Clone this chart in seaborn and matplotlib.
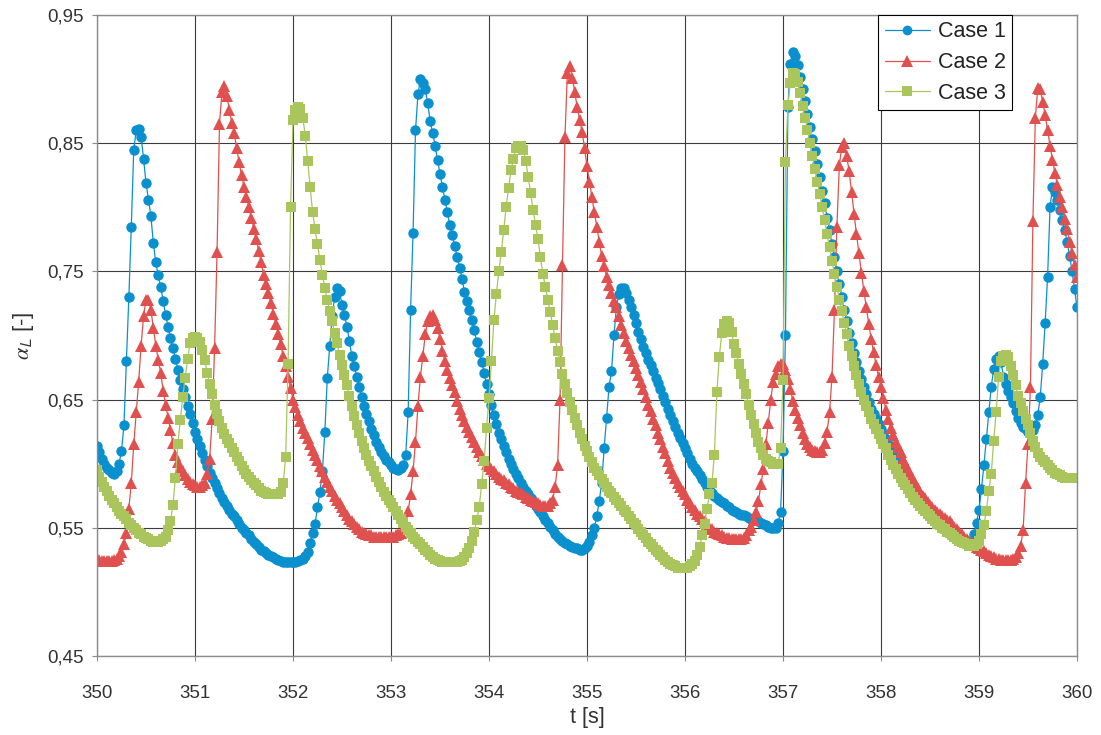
import numpy as np
import pandas as pd
import seaborn as sns
import matplotlib.pyplot as plt
import matplotlib.ticker as mticker
from matplotlib.lines import Line2D

# time axis: 350 s .. 360 s, one value every 0.025 s
t = np.round(np.linspace(350, 360, 401), 3)

cases = ["Case 1", "Case 2", "Case 3"]

case1 = [
    0.614, 0.609, 0.604, 0.600, 0.597, 0.595, 0.593, 0.592, 0.594, 0.600, 0.610, 0.630, 0.680, 0.730, 0.785, 0.845, 0.860, 0.861, 0.855, 0.838,  # 350.0
    0.819, 0.806, 0.793, 0.772, 0.757, 0.747, 0.738, 0.727, 0.716, 0.707, 0.698, 0.690, 0.682, 0.673, 0.665, 0.658, 0.652, 0.645, 0.639, 0.632,  # 350.5
    0.625, 0.619, 0.614, 0.608, 0.603, 0.598, 0.593, 0.589, 0.585, 0.581, 0.577, 0.573, 0.570, 0.567, 0.564, 0.561, 0.559, 0.556, 0.553, 0.550,  # 351.0
    0.548, 0.546, 0.544, 0.541, 0.539, 0.537, 0.535, 0.533, 0.532, 0.530, 0.529, 0.528, 0.527, 0.526, 0.525, 0.524, 0.523, 0.523, 0.523, 0.523,  # 351.5
    0.523, 0.523, 0.524, 0.525, 0.526, 0.528, 0.531, 0.538, 0.546, 0.553, 0.566, 0.578, 0.594, 0.625, 0.667, 0.692, 0.715, 0.730, 0.737, 0.735,  # 352.0
    0.724, 0.716, 0.707, 0.696, 0.684, 0.676, 0.668, 0.660, 0.652, 0.645, 0.639, 0.633, 0.627, 0.622, 0.617, 0.613, 0.609, 0.606, 0.603, 0.601,  # 352.5
    0.599, 0.597, 0.596, 0.595, 0.597, 0.599, 0.607, 0.640, 0.720, 0.780, 0.860, 0.888, 0.900, 0.897, 0.892, 0.881, 0.867, 0.858, 0.848, 0.837,  # 353.0
    0.826, 0.816, 0.806, 0.796, 0.786, 0.778, 0.770, 0.761, 0.753, 0.744, 0.734, 0.727, 0.720, 0.712, 0.704, 0.695, 0.687, 0.679, 0.671, 0.662,  # 353.5
    0.654, 0.646, 0.638, 0.631, 0.624, 0.619, 0.614, 0.609, 0.604, 0.600, 0.596, 0.592, 0.589, 0.585, 0.582, 0.579, 0.576, 0.573, 0.570, 0.567,  # 354.0
    0.565, 0.562, 0.559, 0.556, 0.554, 0.551, 0.548, 0.545, 0.543, 0.541, 0.540, 0.538, 0.537, 0.536, 0.535, 0.534, 0.534, 0.533, 0.533, 0.534,  # 354.5
    0.536, 0.539, 0.544, 0.550, 0.559, 0.571, 0.585, 0.612, 0.636, 0.660, 0.672, 0.700, 0.722, 0.732, 0.737, 0.737, 0.733, 0.728, 0.722, 0.716,  # 355.0
    0.710, 0.703, 0.697, 0.691, 0.686, 0.681, 0.677, 0.672, 0.667, 0.663, 0.658, 0.653, 0.648, 0.643, 0.638, 0.633, 0.629, 0.624, 0.620, 0.616,  # 355.5
    0.612, 0.608, 0.604, 0.600, 0.597, 0.594, 0.591, 0.588, 0.585, 0.582, 0.580, 0.577, 0.575, 0.573, 0.572, 0.570, 0.569, 0.567, 0.566, 0.564,  # 356.0
    0.563, 0.562, 0.561, 0.560, 0.560, 0.559, 0.558, 0.557, 0.557, 0.556, 0.555, 0.554, 0.553, 0.552, 0.551, 0.550, 0.550, 0.550, 0.554, 0.562,  # 356.5
    0.610, 0.700, 0.878, 0.912, 0.921, 0.918, 0.911, 0.902, 0.892, 0.883, 0.873, 0.863, 0.853, 0.844, 0.834, 0.824, 0.813, 0.803, 0.792, 0.782,  # 357.0
    0.771, 0.761, 0.750, 0.740, 0.730, 0.720, 0.711, 0.702, 0.694, 0.686, 0.679, 0.672, 0.666, 0.660, 0.654, 0.648, 0.643, 0.639, 0.635, 0.631,  # 357.5
    0.627, 0.623, 0.619, 0.615, 0.611, 0.607, 0.603, 0.600, 0.596, 0.592, 0.589, 0.586, 0.583, 0.580, 0.578, 0.575, 0.573, 0.570, 0.568, 0.566,  # 358.0
    0.564, 0.562, 0.560, 0.558, 0.556, 0.554, 0.552, 0.550, 0.549, 0.547, 0.546, 0.544, 0.543, 0.541, 0.540, 0.539, 0.538, 0.538, 0.545, 0.554,  # 358.5
    0.564, 0.580, 0.599, 0.619, 0.640, 0.660, 0.674, 0.682, 0.684, 0.679, 0.668, 0.662, 0.657, 0.652, 0.647, 0.641, 0.636, 0.632, 0.629, 0.627,  # 359.0
    0.625, 0.625, 0.626, 0.630, 0.638, 0.652, 0.678, 0.710, 0.746, 0.800, 0.816, 0.812, 0.806, 0.798, 0.790, 0.782, 0.773, 0.762, 0.750, 0.736,  # 359.5
    0.722,
]

case2 = [
    0.525, 0.525, 0.524, 0.524, 0.524, 0.524, 0.524, 0.525, 0.526, 0.528, 0.531, 0.537, 0.546, 0.565, 0.585, 0.615, 0.640, 0.664, 0.692, 0.715,
    0.728, 0.728, 0.720, 0.706, 0.692, 0.681, 0.671, 0.657, 0.646, 0.636, 0.626, 0.616, 0.607, 0.601, 0.597, 0.594, 0.591, 0.588, 0.586, 0.584,
    0.583, 0.582, 0.582, 0.583, 0.585, 0.592, 0.604, 0.635, 0.690, 0.765, 0.865, 0.890, 0.895, 0.887, 0.876, 0.866, 0.858, 0.846, 0.835, 0.825,
    0.816, 0.808, 0.800, 0.792, 0.783, 0.775, 0.766, 0.757, 0.747, 0.740, 0.733, 0.725, 0.717, 0.709, 0.701, 0.693, 0.684, 0.676, 0.668, 0.659,
    0.650, 0.644, 0.638, 0.633, 0.628, 0.624, 0.620, 0.615, 0.611, 0.607, 0.603, 0.598, 0.594, 0.590, 0.586, 0.582, 0.579, 0.575, 0.572, 0.569,
    0.566, 0.563, 0.560, 0.557, 0.555, 0.553, 0.551, 0.549, 0.547, 0.546, 0.545, 0.544, 0.544, 0.543, 0.543, 0.543, 0.543, 0.543, 0.543, 0.543,
    0.543, 0.543, 0.544, 0.545, 0.546, 0.549, 0.553, 0.563, 0.576, 0.594, 0.617, 0.645, 0.668, 0.684, 0.701, 0.711, 0.715, 0.716, 0.712, 0.706,
    0.697, 0.688, 0.680, 0.673, 0.667, 0.661, 0.656, 0.649, 0.643, 0.638, 0.633, 0.629, 0.625, 0.621, 0.617, 0.613, 0.609, 0.606, 0.603, 0.600,
    0.598, 0.596, 0.594, 0.592, 0.590, 0.588, 0.587, 0.585, 0.584, 0.582, 0.581, 0.579, 0.578, 0.577, 0.576, 0.574, 0.573, 0.572, 0.571, 0.570,
    0.569, 0.568, 0.567, 0.567, 0.567, 0.569, 0.572, 0.582, 0.599, 0.650, 0.755, 0.855, 0.905, 0.910, 0.901, 0.890, 0.878, 0.868, 0.859, 0.846,
    0.832, 0.820, 0.808, 0.796, 0.785, 0.773, 0.762, 0.754, 0.746, 0.739, 0.733, 0.727, 0.722, 0.715, 0.708, 0.702, 0.696, 0.690, 0.685, 0.680,
    0.675, 0.669, 0.664, 0.658, 0.652, 0.646, 0.641, 0.635, 0.630, 0.624, 0.619, 0.613, 0.608, 0.602, 0.597, 0.593, 0.589, 0.585, 0.582, 0.579,
    0.576, 0.572, 0.569, 0.566, 0.564, 0.561, 0.559, 0.557, 0.555, 0.553, 0.551, 0.549, 0.547, 0.546, 0.545, 0.544, 0.543, 0.542, 0.542, 0.541,
    0.541, 0.541, 0.541, 0.541, 0.542, 0.544, 0.548, 0.551, 0.556, 0.562, 0.571, 0.584, 0.596, 0.615, 0.632, 0.650, 0.664, 0.670, 0.676, 0.678,
    0.678, 0.673, 0.666, 0.658, 0.649, 0.642, 0.636, 0.630, 0.624, 0.619, 0.615, 0.613, 0.611, 0.610, 0.609, 0.609, 0.611, 0.616, 0.625, 0.640,
    0.668, 0.720, 0.785, 0.833, 0.847, 0.850, 0.840, 0.828, 0.812, 0.795, 0.779, 0.764, 0.749, 0.735, 0.722, 0.709, 0.697, 0.687, 0.677, 0.668,
    0.660, 0.651, 0.642, 0.635, 0.628, 0.622, 0.617, 0.613, 0.609, 0.604, 0.600, 0.596, 0.592, 0.588, 0.585, 0.581, 0.578, 0.575, 0.573, 0.570,
    0.568, 0.566, 0.564, 0.562, 0.561, 0.559, 0.558, 0.556, 0.555, 0.553, 0.551, 0.549, 0.547, 0.545, 0.543, 0.541, 0.540, 0.538, 0.537, 0.535,
    0.534, 0.533, 0.532, 0.530, 0.529, 0.528, 0.527, 0.526, 0.526, 0.525, 0.525, 0.525, 0.525, 0.525, 0.526, 0.527, 0.530, 0.536, 0.548, 0.585,
    0.615, 0.660, 0.789, 0.870, 0.893, 0.892, 0.882, 0.872, 0.860, 0.848, 0.837, 0.827, 0.817, 0.808, 0.800, 0.791, 0.783, 0.773, 0.764, 0.755,
    0.746,
]

case3 = [
    0.595, 0.590, 0.586, 0.582, 0.579, 0.575, 0.572, 0.569, 0.566, 0.563, 0.561, 0.559, 0.557, 0.554, 0.552, 0.550, 0.548, 0.546, 0.545, 0.543,
    0.542, 0.541, 0.540, 0.539, 0.539, 0.539, 0.540, 0.541, 0.543, 0.548, 0.555, 0.568, 0.589, 0.615, 0.634, 0.652, 0.667, 0.682, 0.694, 0.698,
    0.699, 0.698, 0.695, 0.689, 0.681, 0.671, 0.662, 0.654, 0.646, 0.639, 0.633, 0.628, 0.623, 0.619, 0.616, 0.612, 0.609, 0.605, 0.602, 0.598,
    0.595, 0.592, 0.590, 0.587, 0.585, 0.583, 0.581, 0.579, 0.578, 0.577, 0.576, 0.576, 0.576, 0.576, 0.576, 0.578, 0.585, 0.605, 0.678, 0.800,
    0.868, 0.876, 0.878, 0.877, 0.870, 0.856, 0.836, 0.816, 0.796, 0.783, 0.771, 0.759, 0.747, 0.737, 0.728, 0.719, 0.711, 0.702, 0.694, 0.685,
    0.677, 0.669, 0.661, 0.653, 0.645, 0.637, 0.630, 0.624, 0.618, 0.612, 0.607, 0.602, 0.598, 0.594, 0.590, 0.586, 0.582, 0.578, 0.575, 0.572,
    0.569, 0.566, 0.563, 0.560, 0.557, 0.554, 0.551, 0.548, 0.546, 0.543, 0.541, 0.539, 0.537, 0.535, 0.533, 0.531, 0.529, 0.527, 0.526, 0.525,
    0.524, 0.523, 0.523, 0.523, 0.523, 0.523, 0.523, 0.523, 0.524, 0.525, 0.527, 0.530, 0.534, 0.540, 0.547, 0.556, 0.566, 0.584, 0.602, 0.628,
    0.651, 0.680, 0.712, 0.732, 0.750, 0.765, 0.782, 0.800, 0.815, 0.829, 0.838, 0.846, 0.848, 0.848, 0.845, 0.836, 0.824, 0.811, 0.798, 0.786,
    0.775, 0.761, 0.748, 0.738, 0.728, 0.718, 0.708, 0.698, 0.688, 0.679, 0.670, 0.662, 0.655, 0.648, 0.642, 0.636, 0.630, 0.624, 0.619, 0.614,
    0.610, 0.605, 0.601, 0.597, 0.594, 0.591, 0.588, 0.585, 0.582, 0.579, 0.577, 0.574, 0.572, 0.569, 0.567, 0.564, 0.562, 0.559, 0.557, 0.554,
    0.552, 0.549, 0.547, 0.544, 0.542, 0.539, 0.537, 0.535, 0.533, 0.531, 0.529, 0.527, 0.525, 0.523, 0.522, 0.521, 0.520, 0.519, 0.519, 0.519,
    0.519, 0.519, 0.520, 0.522, 0.524, 0.529, 0.535, 0.544, 0.553, 0.565, 0.576, 0.585, 0.607, 0.656, 0.683, 0.702, 0.709, 0.711, 0.710, 0.703,
    0.693, 0.686, 0.678, 0.670, 0.662, 0.654, 0.646, 0.638, 0.631, 0.624, 0.617, 0.612, 0.607, 0.604, 0.602, 0.601, 0.600, 0.600, 0.600, 0.612,
    0.665, 0.835, 0.880, 0.897, 0.905, 0.904, 0.898, 0.889, 0.879, 0.870, 0.860, 0.850, 0.840, 0.830, 0.820, 0.810, 0.800, 0.790, 0.779, 0.769,
    0.758, 0.748, 0.738, 0.728, 0.719, 0.710, 0.701, 0.692, 0.684, 0.676, 0.669, 0.662, 0.656, 0.650, 0.645, 0.640, 0.635, 0.631, 0.627, 0.623,
    0.619, 0.615, 0.612, 0.607, 0.603, 0.599, 0.596, 0.592, 0.589, 0.586, 0.583, 0.580, 0.577, 0.574, 0.572, 0.569, 0.567, 0.565, 0.563, 0.561,
    0.559, 0.557, 0.555, 0.553, 0.552, 0.550, 0.549, 0.547, 0.546, 0.544, 0.543, 0.541, 0.540, 0.539, 0.538, 0.537, 0.536, 0.536, 0.536, 0.537,
    0.540, 0.545, 0.552, 0.563, 0.579, 0.592, 0.618, 0.640, 0.668, 0.680, 0.684, 0.685, 0.683, 0.676, 0.669, 0.661, 0.653, 0.647, 0.641, 0.635,
    0.630, 0.624, 0.618, 0.613, 0.608, 0.605, 0.603, 0.601, 0.599, 0.597, 0.595, 0.593, 0.592, 0.591, 0.590, 0.589, 0.589, 0.589, 0.589, 0.589,
    0.589,
]

assert len(case1) == len(case2) == len(case3) == len(t)

colors = {"Case 1": "#0a90cf", "Case 2": "#e0504e", "Case 3": "#a9c55c"}
markers = ["o", "^", "s"]
msizes = [7.5, 8.5, 7.0]

df = pd.DataFrame({
    "t": np.tile(t, 3),
    "alpha": np.concatenate([case1, case2, case3]),
    "case": np.repeat(cases, len(t)),
})

sns.set_theme(style="white")
plt.rcParams["font.family"] = ["Liberation Sans", "DejaVu Sans"]
plt.rcParams["mathtext.fontset"] = "stix"

fig, ax = plt.subplots(figsize=(11.01, 7.35), dpi=100)
fig.subplots_adjust(left=0.0881, right=0.9782, top=0.9796, bottom=0.1075)

sns.lineplot(data=df, x="t", y="alpha", hue="case", style="case",
             markers=markers, dashes=False, palette=colors,
             estimator=None, sort=False, lw=0.9, markeredgewidth=0,
             legend=False, ax=ax)
for line, ms in zip(ax.lines, msizes):
    line.set_markersize(ms)

ax.set_xlim(350, 360)
ax.set_ylim(0.45, 0.95)
ax.set_xticks(np.arange(350, 361, 1))
ax.set_yticks([0.45, 0.55, 0.65, 0.75, 0.85, 0.95])
ax.yaxis.set_major_formatter(mticker.FuncFormatter(lambda v, p: f"{v:.2f}".replace(".", ",")))
ax.xaxis.set_major_formatter(mticker.FuncFormatter(lambda v, p: f"{v:.0f}"))

ax.grid(True, color="#3c3c3c", lw=0.8)
ax.set_axisbelow(True)
for s in ax.spines.values():
    s.set_color("#8c8c8c")
    s.set_linewidth(1.0)

ax.tick_params(axis="both", direction="out", length=3.6, width=0.8, color="#8c8c8c",
               labelsize=13.5, labelcolor="#333333")
ax.tick_params(axis="x", pad=17)
ax.tick_params(axis="y", pad=6)
ax.xaxis.set_ticks_position("bottom")
ax.yaxis.set_ticks_position("left")

ax.set_xlabel("t [s]", fontsize=15.5, color="#333333")
ax.set_ylabel(r"$\alpha_{\mathsf{L}}$ [-]", fontsize=16, color="#333333")
ax.xaxis.set_label_coords(0.5, -0.08)
ax.yaxis.set_label_coords(-0.062, 0.5)

handles = [Line2D([], [], color=colors[c], marker=m, markersize=ms - 0.5, markeredgewidth=0, lw=0.9)
           for c, m, ms in zip(cases, markers, msizes)]
leg = ax.legend(handles, cases, loc="upper right", bbox_to_anchor=((1012 - 97) / 980, 1.0),
                borderaxespad=0, frameon=True, fancybox=False, edgecolor="black",
                framealpha=1, fontsize=15.5, handlelength=2.1, handletextpad=0.35,
                labelspacing=0.45, borderpad=0.3)
leg.get_frame().set_linewidth(0.8)
for txt in leg.get_texts():
    txt.set_color("#222222")

fig.savefig("out.png", dpi=100)
